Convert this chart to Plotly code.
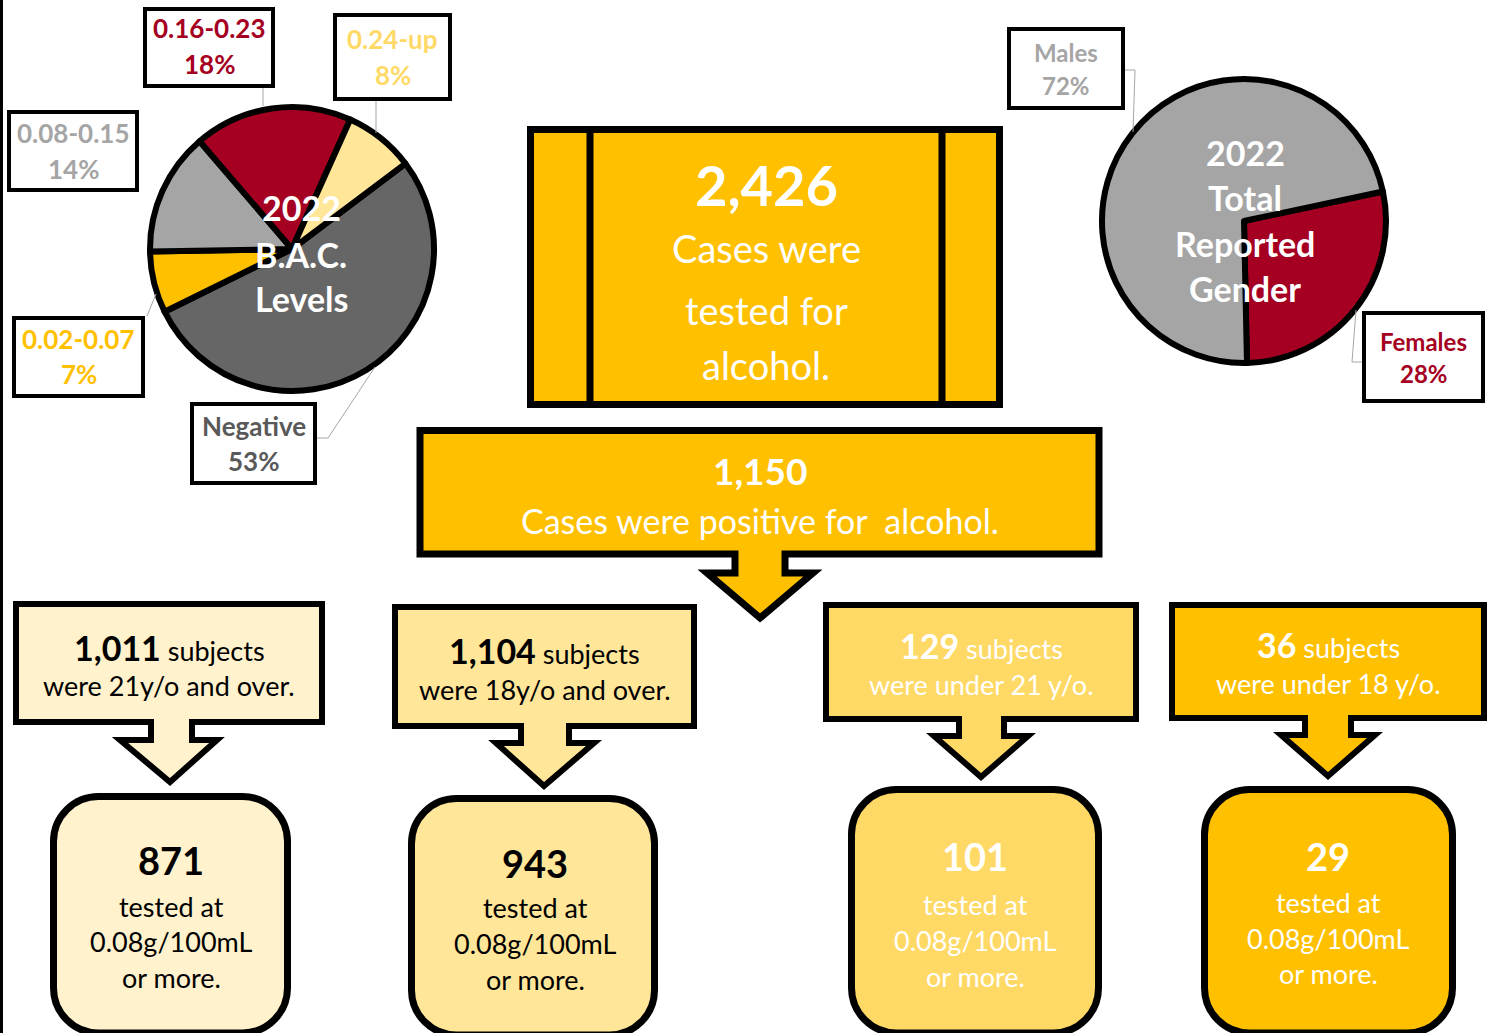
import plotly.graph_objects as go

W, H = 1491, 1033
FONT = "Lato"

# ---------------- data ----------------
bac_labels = ["Negative", "0.02-0.07", "0.08-0.15", "0.16-0.23", "0.24-up"]
bac_values = [53, 7, 14, 18, 8]
bac_title = ["2022", "B.A.C.", "Levels"]

gender_labels = ["Females", "Males"]
gender_values = [28, 72]
gender_title = ["2022", "Total", "Reported", "Gender"]

total_tested = 2426
tested_text = ["Cases were", "tested for", "alcohol."]
total_positive = 1150
positive_text = "Cases were positive for&nbsp; alcohol."

group_counts = [1011, 1104, 129, 36]
group_desc = ["were 21y/o and over.", "were 18y/o and over.",
              "were under 21 y/o.", "were under 18 y/o."]
over_limit = [871, 943, 101, 29]
over_limit_text = ["tested at", "0.08g/100mL", "or more."]

# ---------------- styles ----------------
bac_colors = ["#666666", "#FFC000", "#A5A5A5", "#A50021", "#FFE699"]
bac_text_colors = ["#595959", "#FFC000", "#A5A5A5", "#A50021", "#FFD966"]
gender_colors = ["#A50021", "#A5A5A5"]
gender_text_colors = ["#A50021", "#A5A5A5"]
group_fill = ["#FFF2CC", "#FFE699", "#FFD966", "#FFC000"]
group_text = ["#000000", "#000000", "#FFFFFF", "#FFFFFF"]
GOLD = "#FFC000"
LEADER = "#A6A6A6"
TY = -2  # vertical text offset

# ---------------- layout geometry (pixels) ----------------
bac_pie = (292, 249, 142)        # cx, cy, r
gender_pie = (1244, 221, 142)
bac_boxes = [(190, 402, 317, 485), (12, 316, 145, 398), (7, 110, 139, 192),
             (143, 7, 275, 88), (333, 13, 452, 101)]
bac_lines_y = [(428, 463), (341, 376), (135, 171), (30, 66), (41, 77)]
bac_leaders = [[(317, 438), (328, 438), (375, 367)], [(147, 316), (156, 294)], [],
               [(263, 88), (263, 106)], [(376, 101), (376, 133)]]
bac_title_y = [209, 256, 300]
bac_title_x = 301

gender_boxes = [(1362, 311, 1485, 403), (1007, 27, 1125, 110)]
gender_lines_y = [(343, 375), (54, 87)]
gender_leaders = [[(1362, 362), (1352, 362), (1356, 310)],
                  [(1125, 70), (1135, 70), (1133, 132)]]
gender_title_y = [154, 199, 245, 290]
gender_title_x = 1245

# callout: x0, y0, x1, y1, stemL, stemR, headY, headL, headR, tipX, tipY (stroke centre-lines)
positive_callout = (420, 430.5, 1099, 554, 735, 785, 573, 707, 813, 760, 618)
group_callouts = [
    (16, 604, 322, 722, 151, 192, 740, 120, 217, 170, 782),
    (395, 607, 694, 726, 521, 569, 743, 496, 594, 544, 786),
    (826, 605, 1136, 719, 959, 1004, 736, 934, 1028, 981, 777),
    (1172, 605, 1484, 718, 1305, 1351, 735, 1281, 1375, 1328, 776),
]
group_lines_y = [(649, 687), (652, 691), (647, 686), (646, 685)]
round_boxes = [(53.5, 796.5, 287.5, 1033), (411.5, 798.5, 654.5, 1035),
               (851.5, 789.5, 1098.5, 1033), (1204.5, 789.5, 1452.5, 1033)]
round_lines_y = [(862, 908, 943, 979), (865, 909, 945, 981),
                 (858, 906, 942, 978), (858, 904, 940, 975)]
round_center_x = [171, 535, 975, 1328]


def dom(cx, cy, r):
    return dict(x=[(cx - r) / W, (cx + r) / W], y=[1 - (cy + r) / H, 1 - (cy - r) / H])


def poly_path(pts, close=True):
    s = "M " + " L ".join(f"{x},{y}" for x, y in pts)
    return s + (" Z" if close else "")


def rounded_path(x0, y0, x1, y1, r):
    k = 0.5523 * r
    return (f"M {x0 + r},{y0} L {x1 - r},{y0} C {x1 - r + k},{y0} {x1},{y0 + r - k} {x1},{y0 + r} "
            f"L {x1},{y1 - r} C {x1},{y1 - r + k} {x1 - r + k},{y1} {x1 - r},{y1} "
            f"L {x0 + r},{y1} C {x0 + r - k},{y1} {x0},{y1 - r + k} {x0},{y1 - r} "
            f"L {x0},{y0 + r} C {x0},{y0 + r - k} {x0 + r - k},{y0} {x0 + r},{y0} Z")


def callout_path(c):
    x0, y0, x1, y1, sl, sr, hy, hl, hr, tx, ty = c
    return poly_path([(x0, y0), (x1, y0), (x1, y1), (sr, y1), (sr, hy), (hr, hy),
                      (tx, ty), (hl, hy), (sl, hy), (sl, y1), (x0, y1)])


shapes = []
annots = []


def add_path(path, fill, lw, color="black"):
    shapes.append(dict(type="path", xref="x", yref="y", path=path, fillcolor=fill,
                       line=dict(color=color, width=lw), layer="above"))


def add_rect(x0, y0, x1, y1, fill, lw):
    shapes.append(dict(type="rect", xref="x", yref="y", x0=x0, y0=y0, x1=x1, y1=y1,
                       fillcolor=fill, line=dict(color="black", width=lw), layer="above"))


def add_line(pts, color=LEADER, lw=1):
    if len(pts) < 2:
        return
    shapes.append(dict(type="path", xref="x", yref="y", path=poly_path(pts, close=False),
                       line=dict(color=color, width=lw), layer="above"))


def add_text(x, y, s, size, color, bold=False):
    annots.append(dict(x=x, y=y + TY, xref="x", yref="y", text=f"<b>{s}</b>" if bold else s,
                       showarrow=False, xanchor="center", yanchor="middle",
                       font=dict(family=FONT, size=size, color=color)))


fig = go.Figure()
fig.add_trace(go.Scatter(x=[0, W], y=[0, H], mode="markers", marker=dict(opacity=0),
                         hoverinfo="skip", showlegend=False))

fig.add_trace(go.Pie(labels=bac_labels, values=bac_values, sort=False, direction="clockwise",
                     rotation=53, textinfo="none", showlegend=False,
                     marker=dict(colors=bac_colors, line=dict(color="black", width=6)),
                     domain=dom(*bac_pie)))
fig.add_trace(go.Pie(labels=gender_labels, values=gender_values, sort=False, direction="clockwise",
                     rotation=78, textinfo="none", showlegend=False,
                     marker=dict(colors=gender_colors, line=dict(color="black", width=6)),
                     domain=dom(*gender_pie)))

# left page edge line
add_line([(1.5, 0), (1.5, H)], color="black", lw=3)

# BAC label boxes
for lab, val, col, box, ly, lead in zip(bac_labels, bac_values, bac_text_colors,
                                         bac_boxes, bac_lines_y, bac_leaders):
    x0, y0, x1, y1 = box
    add_line(lead)
    add_rect(x0 + 2, y0 + 2, x1 - 2, y1 - 2, "white", 4)
    cx = (x0 + x1) / 2
    add_text(cx, ly[0], lab, 26, col, bold=True)
    add_text(cx, ly[1], f"{val}%", 26, col, bold=True)
for i, t in enumerate(bac_title):
    add_text(bac_title_x, bac_title_y[i], t, 34, "white", bold=True)

# gender label boxes
for lab, val, col, box, ly, lead in zip(gender_labels, gender_values, gender_text_colors,
                                         gender_boxes, gender_lines_y, gender_leaders):
    x0, y0, x1, y1 = box
    add_line(lead)
    add_rect(x0 + 2, y0 + 2, x1 - 2, y1 - 2, "white", 4)
    cx = (x0 + x1) / 2
    add_text(cx, ly[0], lab, 24, col, bold=True)
    add_text(cx, ly[1], f"{val}%", 24, col, bold=True)
for i, t in enumerate(gender_title):
    add_text(gender_title_x, gender_title_y[i], t, 34, "white", bold=True)

# total tested box
add_rect(530.5, 129.5, 999.5, 404.5, GOLD, 7)
add_line([(590, 129.5), (590, 404.5)], color="black", lw=7)
add_line([(942, 129.5), (942, 404.5)], color="black", lw=7)
add_text(766, 186, f"{total_tested:,}", 56, "white", bold=True)
for t, y in zip(tested_text, [250, 312, 367]):
    add_text(766, y, t, 38, "white")

# positive callout
add_path(callout_path(positive_callout), GOLD, 7)
add_text(760, 472, f"{total_positive:,}", 37, "white", bold=True)
add_text(760, 522, positive_text, 34, "white")

# group callouts and result boxes
for i in range(4):
    c = group_callouts[i]
    add_path(callout_path(c), group_fill[i], 6)
    cx = (c[0] + c[2]) / 2
    add_text(cx, group_lines_y[i][0],
             f"<b><span style='font-size:34px'>{group_counts[i]:,}</span></b> subjects",
             27, group_text[i])
    add_text(cx, group_lines_y[i][1], group_desc[i], 27, group_text[i])

    rb = round_boxes[i]
    add_path(rounded_path(*rb, 45), group_fill[i], 7)
    ly = round_lines_y[i]
    rx = round_center_x[i]
    add_text(rx, ly[0], f"{over_limit[i]:,}", 38, group_text[i], bold=True)
    for t, y in zip(over_limit_text, ly[1:]):
        add_text(rx, y, t, 27, group_text[i])

fig.update_layout(
    width=W, height=H, margin=dict(l=0, r=0, t=0, b=0, pad=0),
    paper_bgcolor="white", plot_bgcolor="white", showlegend=False,
    xaxis=dict(range=[0, W], visible=False, fixedrange=True, showgrid=False, zeroline=False),
    yaxis=dict(range=[H, 0], visible=False, fixedrange=True, showgrid=False, zeroline=False),
    shapes=shapes, annotations=annots, font=dict(family=FONT),
)

fig.write_html("out.html", config={"displayModeBar": False},
               post_script="document.body.style.margin='0px';document.body.style.overflow='hidden';")
